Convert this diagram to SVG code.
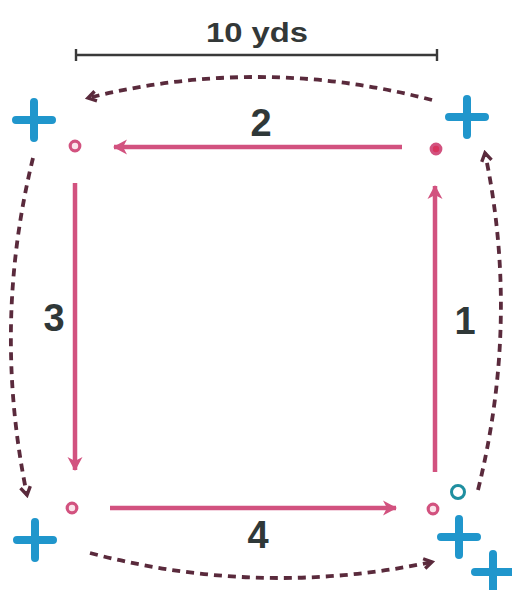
<svg xmlns="http://www.w3.org/2000/svg" width="512" height="590" viewBox="0 0 512 590">
<defs>
<style>
.lbl{font-family:"Liberation Sans",Arial,sans-serif;font-weight:bold;font-size:38px;fill:#2f3838;text-anchor:middle}
.scale{font-family:"Liberation Sans",Arial,sans-serif;font-weight:bold;font-size:28px;fill:#333838;text-anchor:middle}
.run{stroke:#d2527f;stroke-width:4.5;fill:none;marker-end:url(#ph)}
.dash{stroke:#5a2a3c;stroke-width:3.8;fill:none;stroke-dasharray:8 6;marker-end:url(#dh)}
.dot{fill:#fbe3ea;stroke:#d2527f;stroke-width:3.2}
.cross{stroke:#2096cc;stroke-width:8;stroke-linecap:round}
</style>
<marker id="ph" viewBox="0 0 18 18" refX="16" refY="9" markerWidth="18" markerHeight="18" markerUnits="userSpaceOnUse" orient="auto">
<path d="M3,1.5 L17,9 L3,16.5 L7,9 Z" fill="#d2527f"/>
</marker>
<marker id="dh" viewBox="0 0 14 14" refX="11" refY="7" markerWidth="14" markerHeight="14" markerUnits="userSpaceOnUse" orient="auto">
<path d="M3,2 L11,7 L3,12" fill="none" stroke="#5a2a3c" stroke-width="3.4" stroke-linejoin="miter"/>
</marker>
</defs>
<rect width="512" height="590" fill="#ffffff"/>
<g id="scale-bar">
<path d="M76,55 H437 M76,49 V61 M437,49 V61" stroke="#3a3a3a" stroke-width="2.4" fill="none"/>
<text class="scale" x="257" y="42" textLength="102" lengthAdjust="spacingAndGlyphs">10 yds</text>
</g>
<g id="connectors">
<path class="run" d="M435,472 V186"/>
<path class="run" d="M402,147 H114"/>
<path class="run" d="M75,183 V470"/>
<path class="run" d="M110,508 H396"/>
<path class="dash" d="M432,100 Q260,55 88,98"/>
<path class="dash" d="M478,490 Q520,320 485,153"/>
<path class="dash" d="M33,158 Q-8,325 27,495"/>
<path class="dash" d="M90,553 Q260,598 432,562"/>
</g>
<g id="labels">
<text class="lbl" x="261" y="136">2</text>
<text class="lbl" x="465" y="334">1</text>
<text class="lbl" x="54" y="331">3</text>
<text class="lbl" x="258" y="548">4</text>
</g>
<g id="cone-tl"><circle class="dot" cx="75" cy="146" r="4.8"/></g>
<g id="cone-tr"><circle class="dot" cx="436" cy="149" r="4.8" style="fill:#d8345f"/></g>
<g id="cone-bl"><circle class="dot" cx="72" cy="508" r="4.8"/></g>
<g id="cone-br"><circle class="dot" cx="433" cy="509" r="4.8"/></g>
<g id="player-tl"><path class="cross" d="M16,120 H52 M34,102 V138"/></g>
<g id="player-tr"><path class="cross" d="M449,117 H485 M467,99 V135"/></g>
<g id="player-bl"><path class="cross" d="M17,540 H53 M35,522 V558"/></g>
<g id="player-br1"><path class="cross" d="M441,537 H477 M459,519 V555"/></g>
<g id="player-br2"><path class="cross" d="M475,572 H511 M493,554 V590"/></g>
<g id="marker-o"><circle cx="458" cy="492" r="6.5" fill="none" stroke="#1f8fa0" stroke-width="3"/></g>
</svg>
